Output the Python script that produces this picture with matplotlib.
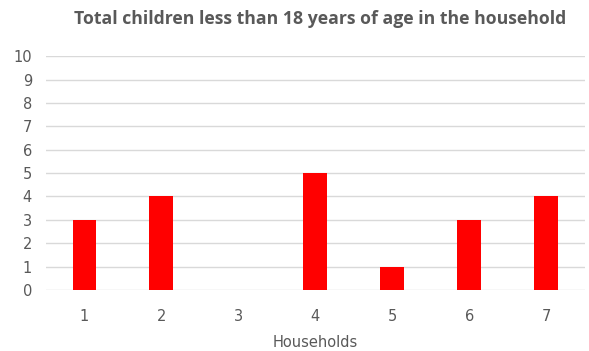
import matplotlib.pyplot as plt

households = ['1', '2', '3', '4', '5', '6', '7']
children = [3, 4, 0, 5, 1, 3, 4]

text_grey = '#595959'

fig = plt.figure(figsize=(5.89, 3.51), dpi=100)
ax = fig.add_axes([0.078, 0.174, 0.915, 0.666])

ax.bar(range(len(households)), children, width=0.31, color='#ff0000', zorder=3)

ax.set_xlim(-0.5, len(households) - 0.5)
ax.set_ylim(0, 10)
ax.set_yticks(range(0, 11))
ax.set_xticks(range(len(households)))
ax.set_xticklabels(households)
ax.grid(axis='y', color='#d9d9d9', linewidth=1, zorder=0)
for s in ax.spines.values():
    s.set_visible(False)
ax.tick_params(length=0, labelsize=10.5, colors=text_grey, pad=14)
ax.tick_params(axis='y', pad=10)

ax.set_xlabel('Households', fontsize=10.5, color=text_grey, labelpad=8)
fig.suptitle('Total children less than 18 years of age in the household',
             x=0.543, y=0.972, fontsize=12.7, fontweight='bold', color=text_grey,
             family='Open Sans')

fig.savefig('out.png', dpi=100)
